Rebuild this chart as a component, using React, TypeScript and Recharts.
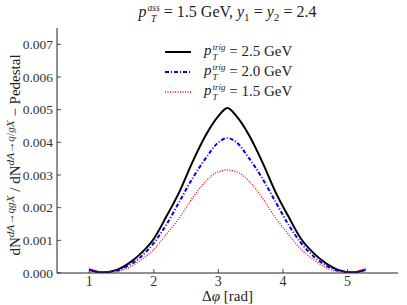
import type { ReactElement } from 'react'
import { LineChart, Line, XAxis, YAxis } from 'recharts'

const phi = [1.0, 1.2, 1.4, 1.6, 1.8, 2.0, 2.2, 2.4, 2.6, 2.8, 3.0, 3.14, 3.28, 3.48, 3.68, 3.88, 4.08, 4.28, 4.48, 4.68, 4.88, 5.08, 5.28]
const trig25 = [0.0001, 0.00002, 0.00008, 0.00028, 0.0006, 0.00105, 0.00175, 0.0025, 0.0034, 0.0042, 0.0048, 0.00505, 0.0048, 0.0042, 0.0034, 0.0025, 0.00175, 0.00105, 0.0006, 0.00028, 0.00008, 0.00002, 0.0001]
const trig20 = [0.0001, 0.00002, 0.00006, 0.00022, 0.0005, 0.00092, 0.0015, 0.0022, 0.0029, 0.0035, 0.004, 0.00413, 0.004, 0.0035, 0.0029, 0.0022, 0.0015, 0.00092, 0.0005, 0.00022, 0.00006, 0.00002, 0.0001]
const trig15 = [0.00015, 0.00003, 0.00004, 0.00015, 0.0004, 0.00072, 0.0012, 0.0017, 0.0023, 0.0028, 0.0031, 0.00315, 0.0031, 0.0028, 0.0023, 0.0017, 0.0012, 0.00072, 0.0004, 0.00015, 0.00004, 0.00003, 0.00015]

const xTicks = [1, 2, 3, 4, 5]
const yTicks = [0, 0.001, 0.002, 0.003, 0.004, 0.005, 0.006, 0.007]

const series = [
  { key: 'p25', label: '2.5', values: trig25, color: '#000000', width: 2, dash: undefined as string | undefined },
  { key: 'p20', label: '2.0', values: trig20, color: '#0000ff', width: 2, dash: '4 2 1 2' },
  { key: 'p15', label: '1.5', values: trig15, color: '#ff0000', width: 1.3, dash: '1 1.5' },
]

const data = phi.map((p, i) => {
  const row: Record<string, number> = { phi: p }
  series.forEach((s) => {
    row[s.key] = s.values[i]
  })
  return row
})

const FONT = 'Liberation Serif'
const AXIS = '#222'

function BottomTick(props: any): ReactElement {
  const { x, y, payload } = props
  return (
    <g>
      <line x1={x} x2={x} y1={y} y2={y - 4} stroke={AXIS} strokeWidth={0.8} />
      <text x={x} y={y + 13} textAnchor="middle" fontSize={14} fontFamily={FONT} fill="#333">
        {payload.value}
      </text>
    </g>
  )
}

function TopTick(props: any): ReactElement {
  const { x, y } = props
  return <line x1={x} x2={x} y1={y} y2={y + 4} stroke={AXIS} strokeWidth={0.8} />
}

function LeftTick(props: any): ReactElement {
  const { x, y, payload } = props
  return (
    <g>
      <line x1={x} x2={x + 4} y1={y} y2={y} stroke={AXIS} strokeWidth={0.8} />
      <text x={x - 4} y={y + 4.5} textAnchor="end" fontSize={13.5} fontFamily={FONT} fill="#333">
        {Number(payload.value).toFixed(3)}
      </text>
    </g>
  )
}

function RightTick(props: any): ReactElement {
  const { x, y } = props
  return <line x1={x} x2={x - 4} y1={y} y2={y} stroke={AXIS} strokeWidth={0.8} />
}

// p with a superscript and a subscript T stacked on top of each other
function PT({ sup }: { sup: string }): ReactElement {
  return (
    <span style={{ whiteSpace: 'nowrap' }}>
      <i>p</i>
      <span
        style={{
          display: 'inline-flex',
          flexDirection: 'column',
          verticalAlign: 'middle',
          fontSize: '0.6em',
          lineHeight: 1.15,
          marginLeft: 1,
        }}
      >
        <i>{sup}</i>
        <i>T</i>
      </span>
    </span>
  )
}

export default function App(): ReactElement {
  return (
    <div
      style={{
        position: 'absolute',
        left: 0,
        top: 0,
        width: 407,
        height: 305,
        background: '#fff',
        fontFamily: FONT,
        color: '#222',
      }}
    >
      <div
        style={{
          position: 'absolute',
          left: 57,
          width: 341,
          top: 2,
          textAlign: 'center',
          fontSize: 16,
          lineHeight: 1.2,
        }}
      >
        <PT sup="ass" /> = 1.5 GeV, <i>y</i>
        <sub style={{ fontSize: '0.7em', lineHeight: 0 }}>1</sub> = <i>y</i>
        <sub style={{ fontSize: '0.7em', lineHeight: 0 }}>2</sub> = 2.4
      </div>

      <LineChart width={407} height={305} data={data} margin={{ top: 28, right: 9, bottom: 0, left: 0 }}>
        <XAxis
          dataKey="phi"
          type="number"
          domain={[0.5, 5.783]}
          ticks={xTicks}
          allowDataOverflow
          height={32}
          tickSize={0}
          tickMargin={0}
          tickLine={false}
          axisLine={{ stroke: AXIS, strokeWidth: 1 }}
          tick={<BottomTick />}
        />
        <XAxis
          xAxisId="top"
          orientation="top"
          dataKey="phi"
          type="number"
          domain={[0.5, 5.783]}
          ticks={xTicks}
          allowDataOverflow
          height={0}
          tickSize={0}
          tickMargin={0}
          tickLine={false}
          axisLine={{ stroke: AXIS, strokeWidth: 1 }}
          tick={<TopTick />}
        />
        <YAxis
          type="number"
          domain={[0, 0.0075]}
          ticks={yTicks}
          allowDataOverflow
          width={57}
          tickSize={0}
          tickMargin={0}
          tickLine={false}
          axisLine={{ stroke: AXIS, strokeWidth: 1 }}
          tick={<LeftTick />}
        />
        <YAxis
          yAxisId="right"
          orientation="right"
          type="number"
          domain={[0, 0.0075]}
          ticks={yTicks}
          allowDataOverflow
          width={0}
          tickSize={0}
          tickMargin={0}
          tickLine={false}
          axisLine={{ stroke: AXIS, strokeWidth: 1 }}
          tick={<RightTick />}
        />
        {series.map((s) => (
          <Line
            key={s.key}
            dataKey={s.key}
            type="monotone"
            stroke={s.color}
            strokeWidth={s.width}
            strokeDasharray={s.dash}
            dot={false}
            activeDot={false}
            isAnimationActive={false}
          />
        ))}
      </LineChart>

      <div style={{ position: 'absolute', left: 160, top: 42, fontSize: 15 }}>
        {series.map((s) => (
          <div key={s.key} style={{ display: 'flex', alignItems: 'center', height: 20, lineHeight: 1 }}>
            <svg width={30} height={6} style={{ marginLeft: 4, marginRight: 10 }}>
              <line x1={1} x2={27} y1={3} y2={3} stroke={s.color} strokeWidth={s.width} strokeDasharray={s.dash} />
            </svg>
            <span>
              <PT sup="trig" /> = {s.label} GeV
            </span>
          </div>
        ))}
      </div>

      <div
        style={{
          position: 'absolute',
          left: 14 - 140,
          top: 155 - 10,
          width: 280,
          height: 20,
          textAlign: 'center',
          transform: 'rotate(-90deg)',
          fontSize: 15,
          whiteSpace: 'nowrap',
        }}
      >
        dN<sup style={{ fontSize: '0.75em' }}><i>dA</i>→<i>qgX</i></sup> / dN
        <sup style={{ fontSize: '0.75em' }}><i>dA</i>→<i>q</i>/<i>gX</i></sup> − Pedestal
      </div>

      <div
        style={{
          position: 'absolute',
          left: 57,
          width: 341,
          top: 289,
          textAlign: 'center',
          fontSize: 15,
          lineHeight: 1,
        }}
      >
        Δ<i>φ</i> [rad]
      </div>
    </div>
  )
}
